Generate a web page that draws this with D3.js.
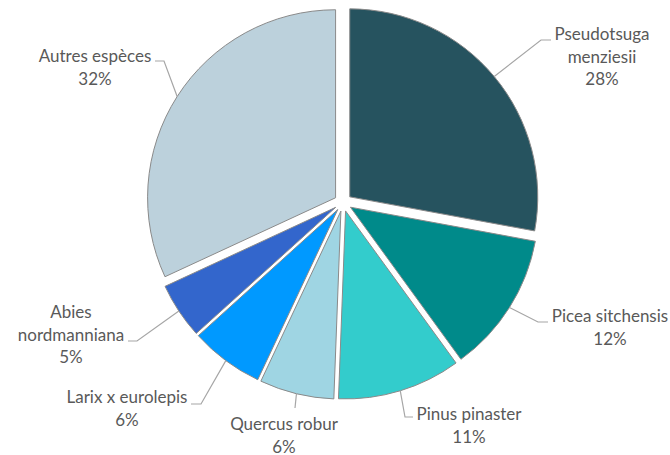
<!DOCTYPE html>
<html><head><meta charset="utf-8">
<script src="https://cdn.jsdelivr.net/npm/d3@7"></script>
<style>html,body{margin:0;padding:0;background:#fff;}svg{display:block;}</style>
</head><body>
<svg id="c" width="670" height="455"></svg>
<script>
const categories = ["Pseudotsuga menziesii","Picea sitchensis","Pinus pinaster","Quercus robur","Larix x eurolepis","Abies nordmanniana","Autres espèces"];
const values = [27.9,12.1,10.6,6.4,6.3,4.8,31.9];
const percentLabels = ["28%","12%","11%","6%","6%","5%","32%"];
const nameLines = [["Pseudotsuga","menziesii"],["Picea sitchensis"],["Pinus pinaster"],["Quercus robur"],["Larix x eurolepis"],["Abies","nordmanniana"],["Autres espèces"]];
const colors = ["#26535f","#008a8a","#33cccc","#9fd5e3","#0099ff","#3366cc","#bcd1dc"];

// layout (not data)
const W = 670, H = 455;
const cx = 343, cy = 202.5, R = 188, explode = 8.8;
// label text centre x, first baseline y, elbow point, end of horizontal tick
const labelLayout = [
  {tx:602, ty:40,  elbow:[541,40],  end:[551,40]},
  {tx:610, ty:322, elbow:[538,322], end:[548,322]},
  {tx:469, ty:420, elbow:[405,417], end:[413,417]},
  {tx:284, ty:430, elbow:[295,408], end:null},
  {tx:127, ty:403, elbow:[201,404], end:[191,404]},
  {tx:71,  ty:318, elbow:[137,341], end:[128,341]},
  {tx:95,  ty:62,  elbow:[164,61],  end:[155,61]}
];
const lineH = 22.5;

const svg = d3.select("#c");
const pie = d3.pie().sort(null).value(d => d)(values);
const arc = d3.arc().innerRadius(0).outerRadius(R);

const g = svg.append("g");
pie.forEach((p, i) => {
  const mid = (p.startAngle + p.endAngle) / 2;
  const ox = cx + explode * Math.sin(mid), oy = cy - explode * Math.cos(mid);
  g.append("path")
    .attr("transform", `translate(${ox},${oy})`)
    .attr("d", arc(p))
    .attr("fill", colors[i])
    .attr("stroke", "#8a8a8a")
    .attr("stroke-width", 1)
    .attr("stroke-linejoin", "miter");
  // leader line
  const L = labelLayout[i];
  const sx = ox + R * Math.sin(mid), sy = oy - R * Math.cos(mid);
  const pts = [[sx, sy], L.elbow];
  if (L.end) pts.push(L.end);
  svg.append("path")
    .attr("d", d3.line()(pts))
    .attr("fill", "none")
    .attr("stroke", "#a6a6a6")
    .attr("stroke-width", 1.2);
  const t = svg.append("text")
    .attr("text-anchor", "middle")
    .attr("font-family", "Lato, 'Noto Sans', sans-serif")
    .attr("font-size", 17)
    .attr("fill", "#595959");
  const lines = nameLines[i].concat([percentLabels[i]]);
  lines.forEach((s, k) => {
    t.append("tspan").attr("x", L.tx).attr("y", L.ty + k * lineH).text(s);
  });
});
</script>
</body></html>
